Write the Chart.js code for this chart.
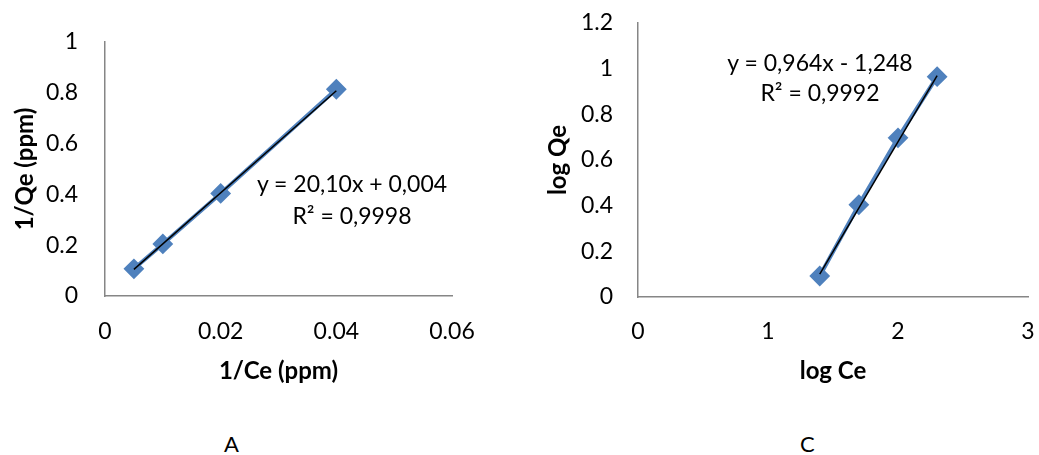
<!DOCTYPE html>
<html>
<head>
<meta charset="utf-8">
<script src="https://cdn.jsdelivr.net/npm/chart.js@4"></script>
<style>
  body { margin: 0; background: #fff; width: 1039px; height: 455px; position: relative; overflow: hidden; font-family: Lato, "Open Sans", sans-serif; }
  .box { position: absolute; top: 0; }
  .eq { position: absolute; text-align: center; font-size: 23px; color: #000; white-space: nowrap; }
  .tag { position: absolute; font-size: 22px; color: #000; }
</style>
</head>
<body>
<div class="box" style="left:0;width:520px;height:400px"><canvas id="chartA" width="520" height="400"></canvas></div>
<div class="box" style="left:520px;width:519px;height:400px"><canvas id="chartC" width="519" height="400"></canvas></div>
<div class="eq" style="left:242px;top:167px;width:220px;line-height:32px">y = 20,10x + 0,004<br>R² = 0,9998</div>
<div class="eq" style="left:710px;top:47px;width:220px;line-height:30px">y = 0,964x - 1,248<br>R² = 0,9992</div>
<div class="tag" style="left:224px;top:430px">A</div>
<div class="tag" style="left:800px;top:430px">C</div>
<script>
// chart A - Langmuir (1/Ce vs 1/Qe)
var xA = [0.005, 0.01, 0.02, 0.04];
var yA = [0.107, 0.205, 0.404, 0.814];
var trendAx = [0.005, 0.04];
var trendAy = [0.105, 0.808];
var xTicksA = [0, 0.02, 0.04, 0.06];
var yTicksA = [0, 0.2, 0.4, 0.6, 0.8, 1];

// chart C - Freundlich (log Ce vs log Qe)
var xC = [1.398, 1.699, 2.0, 2.301];
var yC = [0.092, 0.404, 0.697, 0.965];
var trendCx = [1.398, 2.301];
var trendCy = [0.10, 0.97];
var xTicksC = [0, 1, 2, 3];
var yTicksC = [0, 0.2, 0.4, 0.6, 0.8, 1, 1.2];

var blue = '#4F81BD';
var axisGrey = '#868686';
var tickFont = { family: 'Lato', size: 23 };
var titleFont = { family: 'Lato', size: 24, weight: 'bold' };

function pts(xs, ys) {
  return xs.map(function(x, i) { return { x: x, y: ys[i] }; });
}

function makeChart(id, opt) {
  var ctx = document.getElementById(id).getContext('2d');
  return new Chart(ctx, {
    type: 'scatter',
    data: {
      datasets: [{
        data: pts(opt.tx, opt.ty),
        showLine: true,
        borderColor: '#000',
        borderWidth: 1.5,
        pointRadius: 0,
        order: 0
      }, {
        data: pts(opt.x, opt.y),
        showLine: true,
        borderColor: blue,
        backgroundColor: blue,
        borderWidth: 4,
        pointStyle: 'rectRot',
        pointRadius: 9,
        pointBorderWidth: 2,
        pointBorderColor: blue,
        order: 1
      }]
    },
    options: {
      responsive: false,
      animation: false,
      clip: false,
      layout: { padding: opt.pad },
      plugins: { legend: { display: false }, tooltip: { enabled: false } },
      scales: {
        x: {
          min: opt.xTicks[0], max: opt.xTicks[opt.xTicks.length - 1],
          afterBuildTicks: function(s) { s.ticks = opt.xTicks.map(function(v) { return { value: v }; }); },
          afterFit: function(s) { s.height = opt.xh; s.paddingLeft = 0; s.paddingRight = 0; },
          grid: { display: false, drawTicks: false },
          border: { display: true, color: axisGrey, width: 1.5 },
          ticks: { font: tickFont, color: '#000', padding: opt.xtp, maxRotation: 0, callback: function(v) { return String(v); } },
          title: { display: true, text: opt.xTitle, font: titleFont, color: '#000', padding: { top: 0, bottom: 14 } }
        },
        y: {
          min: opt.yTicks[0], max: opt.yTicks[opt.yTicks.length - 1],
          afterBuildTicks: function(s) { s.ticks = opt.yTicks.map(function(v) { return { value: v }; }); },
          afterFit: function(s) { s.width = opt.yw; s.paddingTop = 0; s.paddingBottom = 0; },
          grid: { display: false, drawTicks: false },
          border: { display: true, color: axisGrey, width: 1.5 },
          ticks: { font: tickFont, color: '#000', padding: opt.ytp, callback: function(v) { return String(v); } },
          title: { display: true, text: opt.yTitle, font: titleFont, color: '#000', padding: { top: opt.ytitle, bottom: 0 } }
        }
      }
    }
  });
}

makeChart('chartA', {
  x: xA, y: yA, tx: trendAx, ty: trendAy,
  xTicks: xTicksA, yTicks: yTicksA,
  xTitle: '1/Ce (ppm)', yTitle: '1/Qe (ppm)',
  pad: { top: 42, right: 68, left: 0, bottom: 0 },
  xh: 104, yw: 105, xtp: 22, ytp: 27, ytitle: 11
});

makeChart('chartC', {
  x: xC, y: yC, tx: trendCx, ty: trendCy,
  xTicks: xTicksC, yTicks: yTicksC,
  xTitle: 'log Ce', yTitle: 'log Qe',
  pad: { top: 23, right: 8, left: 0, bottom: 0 },
  xh: 103, yw: 118, xtp: 21, ytp: 25, ytitle: 24
});
</script>
</body>
</html>
